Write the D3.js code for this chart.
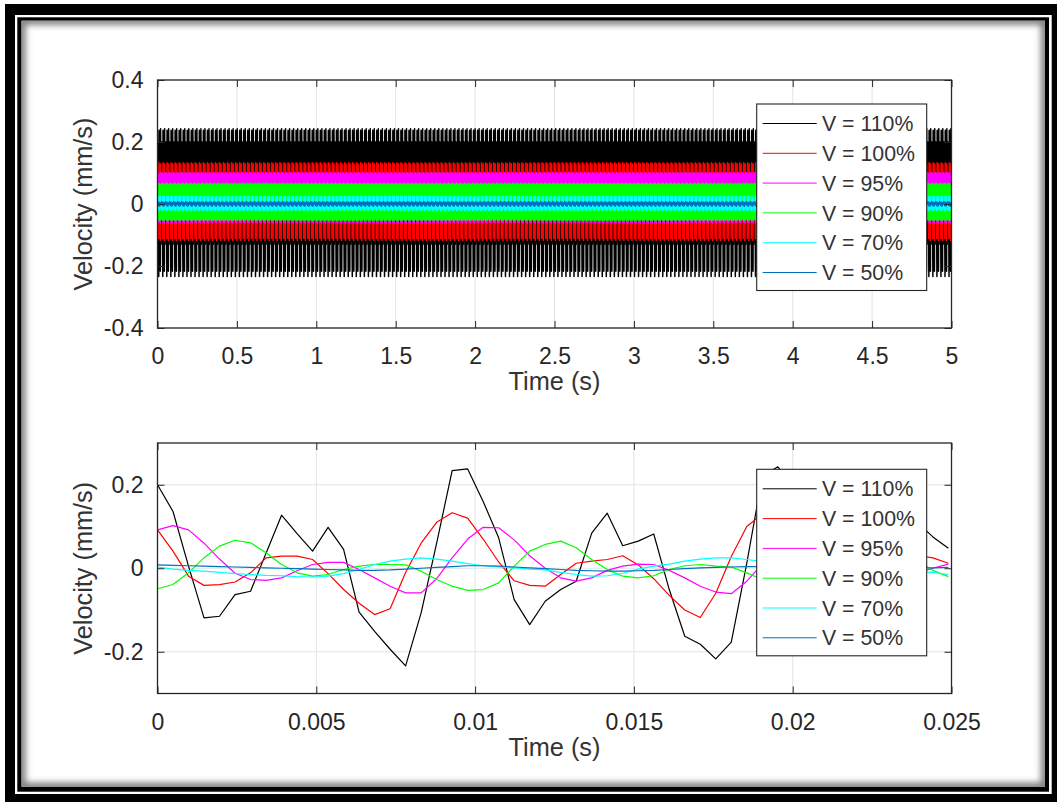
<!DOCTYPE html>
<html>
<head>
<meta charset="utf-8">
<script src="https://cdn.jsdelivr.net/npm/d3@7"></script>
<style>
  html, body { margin: 0; padding: 0; background: #fff; }
  svg { display: block; }
  text { font-family: "Liberation Sans", Arial, Helvetica, sans-serif; fill: #262626; }
</style>
</head>
<body>
<svg id="chart" width="1057" height="802"></svg>
<script>
// ---- Data -------------------------------------------------------------
// Velocity samples (mm/s) of the first 52 samples at 2048 Hz, one array per drive level.
const sampleRate = 2048;
const recordSeconds = 5;

const seriesLabels = ["V = 110%", "V = 100%", "V = 95%", "V = 90%", "V = 70%", "V = 50%"];

const v110 = [0.200, 0.136, 0.005, -0.119, -0.115, -0.063, -0.055, 0.036, 0.127, 0.083,
              0.041, 0.098, 0.045, -0.105, -0.151, -0.194, -0.234, -0.107, 0.060, 0.234,
              0.238, 0.160, 0.073, -0.075, -0.135, -0.079, -0.051, -0.031, 0.084, 0.132,
              0.054, 0.065, 0.082, -0.051, -0.163, -0.182, -0.217, -0.177, 0.012, 0.220,
              0.243, 0.200, 0.120, 0.000, -0.100, -0.130, -0.080, -0.050, 0.020, 0.110,
              0.075, 0.048];
const v100 = [0.092, 0.041, -0.019, -0.041, -0.039, -0.033, -0.011, 0.025, 0.029, 0.029,
              0.021, -0.013, -0.051, -0.084, -0.111, -0.097, -0.010, 0.060, 0.110, 0.133,
              0.120, 0.070, 0.015, -0.030, -0.041, -0.043, -0.015, 0.012, 0.017, 0.021,
              0.030, 0.008, -0.025, -0.065, -0.100, -0.118, -0.060, 0.028, 0.100, 0.130,
              0.125, 0.090, 0.040, -0.010, -0.040, -0.042, -0.030, 0.000, 0.020, 0.030,
              0.025, 0.012];
const v95  = [0.092, 0.102, 0.092, 0.060, 0.022, -0.012, -0.027, -0.029, -0.023, -0.006,
              0.009, 0.014, 0.014, -0.003, -0.023, -0.043, -0.059, -0.059, -0.025, 0.025,
              0.070, 0.098, 0.097, 0.068, 0.030, 0.000, -0.023, -0.031, -0.023, -0.005,
              0.005, 0.010, 0.009, -0.005, -0.023, -0.043, -0.057, -0.061, -0.031, 0.010,
              0.055, 0.090, 0.100, 0.085, 0.050, 0.015, -0.015, -0.028, -0.025, -0.010,
              0.000, 0.010];
const v90  = [-0.049, -0.039, -0.011, 0.025, 0.053, 0.067, 0.061, 0.037, 0.009, -0.011,
              -0.019, -0.015, -0.003, 0.005, 0.009, 0.009, 0.008, -0.007, -0.027, -0.043,
              -0.053, -0.051, -0.035, 0.005, 0.041, 0.057, 0.065, 0.049, 0.021, -0.003,
              -0.019, -0.023, -0.018, -0.003, 0.006, 0.009, 0.005, 0.003, -0.011, -0.027,
              -0.043, -0.052, -0.050, -0.030, 0.005, 0.040, 0.058, 0.063, 0.045, 0.018,
              -0.005, -0.020];
const v70  = [0.003, -0.002, -0.005, -0.007, -0.010, -0.013, -0.015, -0.017, -0.018, -0.020,
              -0.021, -0.019, -0.013, -0.003, 0.009, 0.017, 0.022, 0.025, 0.022, 0.017,
              0.011, 0.006, 0.003, 0.001, -0.002, -0.004, -0.010, -0.015, -0.019, -0.018,
              -0.012, -0.002, 0.005, 0.010, 0.017, 0.022, 0.025, 0.025, 0.021, 0.016,
              0.010, 0.005, 0.002, 0.000, -0.003, -0.006, -0.010, -0.013, -0.012, -0.008,
              -0.010, -0.015];
const v50  = [0.008, 0.007, 0.006, 0.005, 0.004, 0.003, 0.002, 0.001, 0.000, -0.001,
              -0.002, -0.003, -0.004, -0.005, -0.005, -0.004, -0.002, 0.000, 0.002, 0.004,
              0.006, 0.006, 0.005, 0.003, 0.001, -0.001, -0.003, -0.005, -0.006, -0.007,
              -0.007, -0.006, -0.005, -0.003, -0.001, 0.001, 0.002, 0.003, 0.004, 0.004,
              0.004, 0.003, 0.002, 0.001, 0.000, -0.001, -0.001, -0.001, 0.000, 0.001,
              0.001, 0.002];

const seriesValues = [v110, v100, v95, v90, v70, v50];

// tick values
const fullXTicks = [0, 0.5, 1, 1.5, 2, 2.5, 3, 3.5, 4, 4.5, 5];
const fullYTicks = [-0.4, -0.2, 0, 0.2, 0.4];
const zoomXTicks = [0, 0.005, 0.01, 0.015, 0.02, 0.025];
const zoomYTicks = [-0.2, 0, 0.2];

// ---- Style ------------------------------------------------------------
const seriesColors = ["#000000", "#ff0000", "#ff00ff", "#00ff00", "#00ffff", "#0072bd"];
const axisColor = "#262626";
const textColor = "#333333";
const gridColor = "#e3e3e3";
const tickFont = 23, labelFont = 25.3, legendFont = 21.3;

const svg = d3.select("#chart");
const W = 1057, H = 802;

// ---- Framed border with inner shadow ---------------------------------
const defs = svg.append("defs");
defs.append("filter").attr("id", "soft").attr("x", "-5%").attr("y", "-5%").attr("width", "110%").attr("height", "110%")
  .append("feGaussianBlur").attr("stdDeviation", 3);
defs.append("clipPath").attr("id", "innerClip")
  .append("rect").attr("x", 21.5).attr("y", 20.7).attr("width", 1045 - 21.5).attr("height", 786.7 - 20.7);

svg.append("rect").attr("x", 0).attr("y", 0).attr("width", W).attr("height", H).attr("fill", "#fff");
svg.append("rect").attr("x", 5).attr("y", 4).attr("width", W - 5).attr("height", H - 4).attr("fill", "#000");
svg.append("rect").attr("x", 15).attr("y", 15).attr("width", 1051.7 - 15).attr("height", 794 - 15).attr("fill", "#fff");
svg.append("rect").attr("x", 17.3).attr("y", 17.3).attr("width", 1049 - 17.3).attr("height", 791.7 - 17.3).attr("fill", "#000");
svg.append("rect").attr("x", 21.5).attr("y", 20.7).attr("width", 1045 - 21.5).attr("height", 786.7 - 20.7).attr("fill", "#fff");
svg.append("g").attr("clip-path", "url(#innerClip)")
  .append("rect").attr("x", 21.5).attr("y", 20.7).attr("width", 1045 - 21.5).attr("height", 786.7 - 20.7)
  .attr("fill", "none").attr("stroke", "#7a7a7a").attr("stroke-width", 8).attr("filter", "url(#soft)");

// ---- Panel builder ----------------------------------------------------
function drawPanel(cfg) {
  const { id, xDomain, yDomain, top, bottom, xTicks, yTicks, data } = cfg;
  const left = 157.5, right = 951.5;
  const x = d3.scaleLinear().domain(xDomain).range([left, right]);
  const y = d3.scaleLinear().domain(yDomain).range([bottom, top]);
  const g = svg.append("g");

  defs.append("clipPath").attr("id", "clip-" + id)
    .append("rect").attr("x", left).attr("y", top).attr("width", right - left).attr("height", bottom - top);

  // grid
  const grid = g.append("g").attr("stroke", gridColor).attr("stroke-width", 1);
  grid.selectAll("line.gx").data(xTicks).join("line")
    .attr("x1", d => x(d)).attr("x2", d => x(d)).attr("y1", top).attr("y2", bottom);
  grid.selectAll("line.gy").data(yTicks).join("line")
    .attr("y1", d => y(d)).attr("y2", d => y(d)).attr("x1", left).attr("x2", right);

  // traces
  const line = d3.line().x(d => x(d[0])).y(d => y(d[1]));
  g.append("g").attr("clip-path", `url(#clip-${id})`)
    .selectAll("path").data(data).join("path")
    .attr("d", d => line(d.points))
    .attr("fill", "none")
    .attr("stroke", (d, i) => seriesColors[i])
    .attr("stroke-width", cfg.lineWidth)
    .attr("stroke-linejoin", "round");

  // axes (ticks point inward on all four sides)
  const fmt = d => String(d);
  const styleAxis = sel => {
    sel.select(".domain").remove();
    sel.selectAll(".tick line").attr("stroke", axisColor).attr("stroke-width", 1);
    sel.selectAll("text").attr("fill", textColor).style("font-size", tickFont + "px")
      .style("font-family", '"Liberation Sans", Arial, sans-serif');
  };
  g.append("g").attr("transform", `translate(0,${bottom})`)
    .call(d3.axisBottom(x).tickValues(xTicks).tickFormat(fmt).tickSizeInner(-7).tickSizeOuter(0).tickPadding(20))
    .call(styleAxis);
  g.append("g").attr("transform", `translate(0,${top})`)
    .call(d3.axisTop(x).tickValues(xTicks).tickFormat("").tickSizeInner(-7).tickSizeOuter(0))
    .call(styleAxis);
  g.append("g").attr("transform", `translate(${left},0)`)
    .call(d3.axisLeft(y).tickValues(yTicks).tickFormat(fmt).tickSizeInner(-7).tickSizeOuter(0).tickPadding(14))
    .call(styleAxis);
  g.append("g").attr("transform", `translate(${right},0)`)
    .call(d3.axisRight(y).tickValues(yTicks).tickFormat("").tickSizeInner(-7).tickSizeOuter(0))
    .call(styleAxis);

  g.selectAll("g").attr("font-size", null).attr("font-family", null);

  // box
  g.append("rect").attr("x", left).attr("y", top).attr("width", right - left).attr("height", bottom - top)
    .attr("fill", "none").attr("stroke", axisColor).attr("stroke-width", 1.3);

  // axis titles
  g.append("text").attr("x", (left + right) / 2).attr("y", cfg.xLabelY)
    .attr("text-anchor", "middle").style("font-size", labelFont + "px").style("fill", textColor).text("Time (s)");
  g.append("text").attr("transform", `translate(92,${(top + bottom) / 2}) rotate(-90)`)
    .attr("text-anchor", "middle").style("font-size", labelFont + "px").style("fill", textColor).text("Velocity (mm/s)");

  // legend
  const lx = 756.7, ly = cfg.legendTop, lw = 170, lh = 186.5;
  const lg = g.append("g");
  lg.append("rect").attr("x", lx).attr("y", ly).attr("width", lw).attr("height", lh)
    .attr("fill", "#fff").attr("stroke", axisColor).attr("stroke-width", 1.1);
  const rows = lg.selectAll("g.row").data(seriesLabels).join("g")
    .attr("transform", (d, i) => `translate(0,${ly + 19.5 + i * 29.8})`);
  rows.append("line").attr("x1", 762.7).attr("x2", 816.7).attr("y1", 0).attr("y2", 0)
    .attr("stroke", (d, i) => seriesColors[i]).attr("stroke-width", 1);
  rows.append("text").attr("x", 822).attr("y", 0).attr("dy", "0.36em")
    .style("font-size", legendFont + "px").style("fill", textColor).text(d => d);
}

// full 5 s record: the sampled cycle window repeats through the whole record
const nFull = recordSeconds * sampleRate;
const fullData = seriesValues.map(vals => ({
  points: d3.range(nFull + 1).map(i => [i / sampleRate, vals[i % vals.length]])
}));
// first 0.025 s
const zoomData = seriesValues.map(vals => ({
  points: vals.map((v, i) => [i / sampleRate, v])
}));

drawPanel({
  id: "full", xDomain: [0, 5], yDomain: [-0.4, 0.4], top: 80, bottom: 328,
  xTicks: fullXTicks, yTicks: fullYTicks, data: fullData, lineWidth: 1.5,
  xLabelY: 390, legendTop: 104
});
drawPanel({
  id: "zoom", xDomain: [0, 0.025], yDomain: [-0.3, 0.3], top: 443, bottom: 693.5,
  xTicks: zoomXTicks, yTicks: zoomYTicks, data: zoomData, lineWidth: 1.2,
  xLabelY: 756, legendTop: 469.3
});
</script>
</body>
</html>
